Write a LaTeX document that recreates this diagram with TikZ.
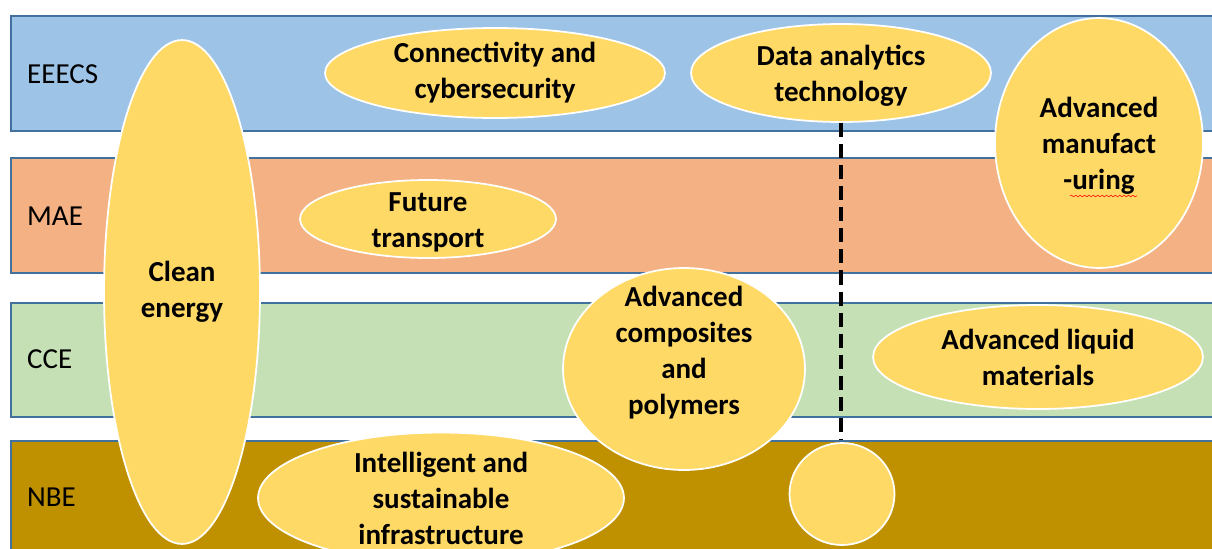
\documentclass[tikz,border=0pt]{standalone}
\usepackage{fontspec}
\setmainfont{Carlito}
\usetikzlibrary{shapes.geometric,decorations.pathmorphing}

\definecolor{eeecsblue}{HTML}{9DC3E6}
\definecolor{maeorange}{HTML}{F4B183}
\definecolor{ccegreen}{HTML}{C5E0B4}
\definecolor{nbegold}{HTML}{BF9000}
\definecolor{areayellow}{HTML}{FFD966}
\definecolor{bandline}{HTML}{41719C}

\begin{document}
\begin{tikzpicture}[
  x=0.02cm, y=-0.02cm,
  band/.style={draw=bandline, line width=0.9pt, anchor=north west, minimum width=24.8cm, minimum height=#1, inner sep=0pt},
  school/.style={anchor=west, font=\fontsize{16.5}{20}\selectfont},
  areatext/.style={align=center, inner sep=0pt, font=\bfseries\fontsize{16.5}{20.5}\selectfont},
  area/.style={ellipse, draw=white, line width=1pt, fill=areayellow, areatext},
  link/.style={black, line width=1.8pt, dash pattern=on 8pt off 4pt},
]
\useasboundingbox (0,0) rectangle (1212,548);
\clip (0,0) rectangle (1212,548);

% school bands
\node[band=2.3cm, fill=eeecsblue] (eeecs) at (10,15) {};
\node[band=2.3cm, fill=maeorange] (mae) at (10,157) {};
\node[band=2.28cm, fill=ccegreen] (cce) at (10,302) {};
\node[band=2.6cm, fill=nbegold] (nbe) at (10,440) {};

\node[school] (eeecslbl) at (21,74) {EEECS};
\node[school] (maelbl) at (21,216) {MAE};
\node[school] (ccelbl) at (21,359) {CCE};
\node[school] (nbelbl) at (21,497) {NBE};

% research areas
\node[area, minimum width=3.12cm, minimum height=10.08cm] (clean) at (182,292) {Clean\\energy};
\node[area, minimum width=6.8cm, minimum height=1.8cm] (connect) at (495,73) {Connectivity and\\cybersecurity};
\node[area, minimum width=6.0cm, minimum height=1.96cm] (data) at (841,73) {};
\node[areatext] (datatext) at ([yshift=-0.06cm]data.center) {Data analytics\\technology};
\node[area, minimum width=4.16cm, minimum height=5.0cm] (manuf) at (1099,143) {};
\node[areatext] (manuftext) at ([yshift=-0.06cm]manuf.center) {Advanced\\manufact\\-uring};
\node[area, minimum width=5.12cm, minimum height=1.56cm] (future) at (428,219) {};
\node[areatext] (futuretext) at ([yshift=-0.06cm]future.center) {Future\\transport};
\node[area, minimum width=4.84cm, minimum height=4.04cm] (compos) at (684,369) {};
\node[areatext] (compostext) at ([yshift=0.32cm]compos.center) {Advanced\\composites\\and\\polymers};
\node[area, minimum width=6.6cm, minimum height=2.08cm] (liquid) at (1038,357) {Advanced liquid\\materials};
\node[area, minimum width=2.1cm, minimum height=2.04cm] (dot) at (842,494) {};
\node[area, minimum width=7.32cm, minimum height=2.2cm] (infra) at (441,498) {Intelligent and\\sustainable\\infrastructure};

\draw[link] (data.south) -- (data.south |- nbe.north);

% spelling squiggle
\draw[red, line width=0.3pt, decorate, decoration={snake, amplitude=0.5pt, segment length=2.5pt}] (1070,196) -- (1137,196);
\end{tikzpicture}
\end{document}
